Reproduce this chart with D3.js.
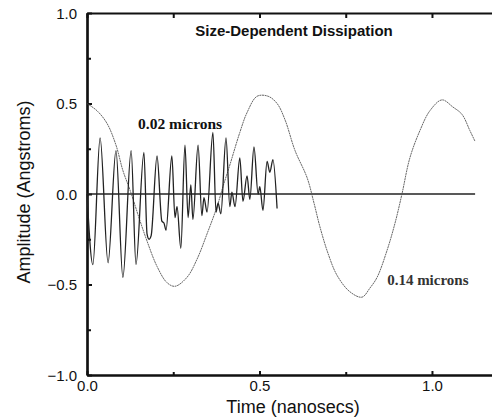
<!DOCTYPE html>
<html>
<head>
<meta charset="utf-8">
<script src="https://cdn.jsdelivr.net/npm/d3@7"></script>
<style>
  body { margin: 0; background: #fff; }
  svg text { font-family: Arial, "Liberation Sans", Helvetica, sans-serif; fill: #111; }
</style>
</head>
<body>
<svg id="Vis" width="492" height="420"></svg>
<script>
/*
* DATA
*/

// 0.02 micron particle (fast, damped)
const timeSmall = [0.000, 0.017, 0.038, 0.061, 0.084, 0.104, 0.128, 0.142, 0.165, 0.174,
  0.180, 0.186, 0.203, 0.217, 0.223, 0.229, 0.246, 0.255, 0.261, 0.272,
  0.284, 0.293, 0.301, 0.307, 0.322, 0.333, 0.339, 0.348, 0.365, 0.374,
  0.380, 0.388, 0.403, 0.414, 0.420, 0.429, 0.443, 0.452, 0.464, 0.472,
  0.484, 0.496, 0.501, 0.510, 0.522, 0.530, 0.539, 0.551];
const ampSmall = [0.00, -0.39, 0.31, -0.38, 0.24, -0.46, 0.24, -0.39, 0.23, -0.22,
  -0.25, -0.23, 0.21, -0.15, -0.16, -0.20, 0.21, -0.13, -0.07, -0.30,
  0.27, -0.13, 0.05, -0.14, 0.27, -0.12, -0.02, -0.10, 0.34, -0.10,
  -0.05, -0.11, 0.31, -0.07, 0.01, -0.07, 0.20, -0.04, 0.10, -0.03,
  0.26, 0.00, 0.04, -0.09, 0.18, 0.12, 0.19, -0.08];

// 0.14 micron particle (slow)
const timeLarge = [0.000, 0.029, 0.058, 0.084, 0.104, 0.125, 0.154, 0.174, 0.203, 0.232,
  0.255, 0.290, 0.319, 0.348, 0.377, 0.394, 0.414, 0.443, 0.464, 0.493,
  0.525, 0.551, 0.574, 0.603, 0.638, 0.658, 0.675, 0.699, 0.725, 0.762,
  0.797, 0.820, 0.841, 0.870, 0.893, 0.913, 0.936, 0.965, 0.994, 1.029,
  1.061, 1.087, 1.110, 1.125];
const ampLarge = [0.50, 0.46, 0.39, 0.27, 0.13, 0.02, -0.15, -0.26, -0.40, -0.49,
  -0.51, -0.46, -0.36, -0.22, -0.07, 0.04, 0.16, 0.34, 0.45, 0.54,
  0.54, 0.50, 0.41, 0.24, 0.09, -0.05, -0.18, -0.33, -0.45, -0.54,
  -0.57, -0.52, -0.46, -0.31, -0.16, 0.00, 0.20, 0.35, 0.46, 0.52,
  0.48, 0.44, 0.35, 0.29];

const xDomain = [0, 1.174];
const yDomain = [-1, 1];
const xMajor = [0, 0.5, 1.0];
const xMinor = [0.25, 0.75];
const yMajor = [-1, -0.5, 0, 0.5, 1];
const yMinor = [-0.75, -0.25, 0.25, 0.75];
const zeroLineEnd = 1.125;

const title = "Size-Dependent Dissipation";
const xTitle = "Time (nanosecs)";
const yTitle = "Amplitude (Angstroms)";
const labelSmall = { text: "0.02 microns", t: 0.148, a: 0.36 };
const labelLarge = { text: "0.14 microns", t: 0.87, a: -0.5 };

/*
* SETUP
*/

const svg = d3.select("svg#Vis");

const x = d3.scaleLinear().domain(xDomain).range([87, 492]);
const y = d3.scaleLinear().domain(yDomain).range([375, 13]);

const fmt = d3.format(".1f");

/*
* AXES
*/

// left axis
const gLeft = svg.append("g").attr("transform", "translate(87,0)");
gLeft.call(d3.axisLeft(y).tickValues(yMajor).tickFormat(fmt)
  .tickSizeInner(-5).tickSizeOuter(0).tickPadding(10));
gLeft.append("g").call(d3.axisLeft(y).tickValues(yMinor).tickFormat("")
  .tickSizeInner(-4).tickSizeOuter(0));

// bottom axis
const gBottom = svg.append("g").attr("transform", "translate(0,375)");
gBottom.call(d3.axisBottom(x).tickValues(xMajor).tickFormat(fmt)
  .tickSizeInner(-4).tickSizeOuter(0).tickPadding(5));
gBottom.append("g").call(d3.axisBottom(x).tickValues(xMinor).tickFormat("")
  .tickSizeInner(-3).tickSizeOuter(0));

// top axis (ticks only)
const gTop = svg.append("g").attr("transform", "translate(0,13)");
gTop.call(d3.axisTop(x).tickValues(xMajor.concat(xMinor)).tickFormat("")
  .tickSizeInner(-5).tickSizeOuter(0));

svg.selectAll(".domain").attr("stroke", "#111").attr("stroke-width", 2.2);
svg.selectAll(".tick line").attr("stroke", "#111").attr("stroke-width", 2);
svg.selectAll(".tick text").style("font-size", "15px")
  .style("font-family", "Arial, 'Liberation Sans', sans-serif").attr("fill", "#111");
gLeft.selectAll(".tick text").attr("dy", "0.35em");

/*
* LINES
*/

svg.append("line")
  .attr("x1", x(0)).attr("x2", x(zeroLineEnd))
  .attr("y1", y(0)).attr("y2", y(0))
  .attr("stroke", "#222").attr("stroke-width", 1.3);

const smooth = d3.line().x(d => x(d[0])).y(d => y(d[1]))
  .curve(d3.curveCatmullRom.alpha(0.5));
const waves = d3.line().x(d => x(d[0])).y(d => y(d[1]))
  .curve(d3.curveMonotoneX);

svg.append("path")
  .datum(d3.zip(timeLarge, ampLarge))
  .attr("d", smooth)
  .attr("fill", "none")
  .attr("stroke", "#555")
  .attr("stroke-width", 0.9)
  .attr("stroke-dasharray", "2,0.6");

svg.append("path")
  .datum(d3.zip(timeSmall, ampSmall))
  .attr("d", waves)
  .attr("fill", "none")
  .attr("stroke", "#222")
  .attr("stroke-width", 1.3)
  .attr("stroke-linejoin", "round");

/*
* TEXT
*/

svg.append("text")
  .attr("x", 294).attr("y", 36)
  .attr("text-anchor", "middle")
  .style("font-size", "15px").style("font-weight", "bold")
  .text(title);

svg.append("text")
  .attr("x", 293).attr("y", 413)
  .attr("text-anchor", "middle")
  .style("font-size", "18px")
  .text(xTitle);

svg.append("text")
  .attr("transform", "translate(30,192) rotate(-90)")
  .attr("text-anchor", "middle")
  .style("font-size", "18px")
  .text(yTitle);

svg.append("text")
  .attr("x", x(labelSmall.t)).attr("y", y(labelSmall.a))
  .style("font-family", "'Liberation Serif', 'Times New Roman', serif")
  .style("font-size", "15.5px").style("font-weight", "bold")
  .text(labelSmall.text);

svg.append("text")
  .attr("x", x(labelLarge.t)).attr("y", y(labelLarge.a))
  .style("font-family", "'Liberation Serif', 'Times New Roman', serif")
  .style("font-size", "15px").style("font-weight", "bold")
  .style("fill", "#333")
  .text(labelLarge.text);
</script>
</body>
</html>
